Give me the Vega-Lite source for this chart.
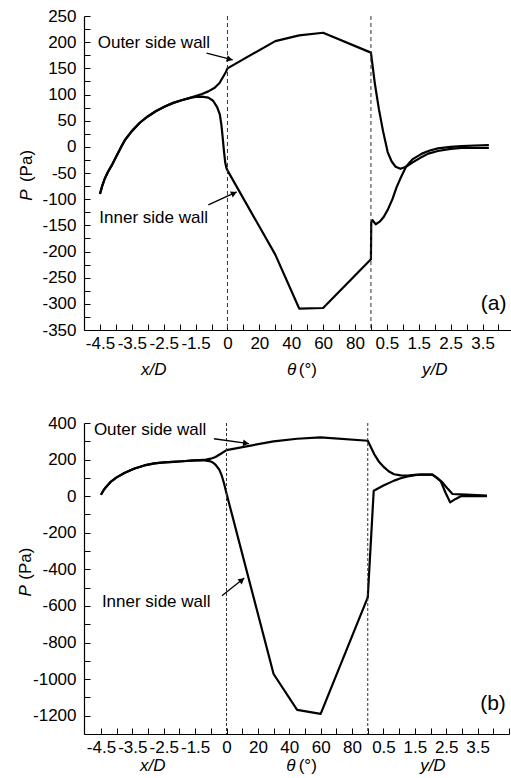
{
  "$schema": "https://vega.github.io/schema/vega-lite/v6.json",
  "autosize": {"type": "pad"},
  "padding": {"left": 16, "top": 7, "right": 0, "bottom": 0},
  "spacing": 93,
  "bounds": "flush",
  "config": {
    "view": {"stroke": null},
    "font": "Liberation Sans",
    "axis": {
      "grid": false, "tickSize": -6, "labelPadding": 13,
      "labelFont": "Liberation Sans", "labelFontSize": 17, "labelColor": "black",
      "domainColor": "black", "domainWidth": 1.2, "tickColor": "black", "tickWidth": 1,
      "labelOverlap": false, "labelFlush": false, "labelBound": false
    },
    "axisX": {"labelPadding": 11},
    "axisY": {"labelPadding": 14}
  },
  "vconcat": [
    {
      "width": 428,
      "height": 314,
      "encoding": {
        "x": {"field": "u", "type": "quantitative", "title": null, "scale": {"domain": [-1, 25.85], "nice": false, "zero": false},
          "axis": {"values": [0,1,2,3,4,5,6,7,8,9,10,11,12,13,14,15,16,17,18,19,20,21,22,23,24,25], "labelOverlap": false,
            "labelExpr": "['-4.5','','-3.5','','-2.5','','-1.5','','0','','20','','40','','60','','80','','0.5','','1.5','','2.5','','3.5','',''][datum.value]"}},
        "y": {"field": "P", "type": "quantitative", "title": null, "scale": {"domain": [-350, 250], "nice": false, "zero": false},
          "axis": {"values": [-350,-325,-300,-275,-250,-225,-200,-175,-150,-125,-100,-75,-50,-25,0,25,50,75,100,125,150,175,200,225,250], "labelOverlap": false,
            "labelExpr": "datum.value % 50 == 0 ? '' + datum.value : ''"}}
      },
      "layer": [
        {
          "data": {"values": [
            {"s":"outer","u":0,"P":-90},{"s":"outer","u":0.15,"P":-74},{"s":"outer","u":0.3,"P":-61},{"s":"outer","u":0.5,"P":-48},{"s":"outer","u":0.73,"P":-36},{"s":"outer","u":1.0,"P":-20},{"s":"outer","u":1.3,"P":-2},{"s":"outer","u":1.57,"P":13},{"s":"outer","u":2.0,"P":30},{"s":"outer","u":2.5,"P":46},{"s":"outer","u":3.0,"P":58},{"s":"outer","u":3.5,"P":68},{"s":"outer","u":4.07,"P":77},{"s":"outer","u":4.6,"P":84},{"s":"outer","u":5.12,"P":89},{"s":"outer","u":5.6,"P":93},{"s":"outer","u":6.0,"P":97},{"s":"outer","u":6.4,"P":101},{"s":"outer","u":6.8,"P":106},{"s":"outer","u":7.2,"P":113},{"s":"outer","u":7.5,"P":122},{"s":"outer","u":7.75,"P":135},{"s":"outer","u":7.9,"P":143},{"s":"outer","u":8.0,"P":150},{"s":"outer","u":11,"P":202},{"s":"outer","u":12.5,"P":213},{"s":"outer","u":14,"P":218},{"s":"outer","u":17,"P":180},{"s":"outer","u":17.25,"P":120},{"s":"outer","u":17.5,"P":72},{"s":"outer","u":17.76,"P":30},{"s":"outer","u":18.05,"P":-10},{"s":"outer","u":18.3,"P":-28},{"s":"outer","u":18.55,"P":-38},{"s":"outer","u":18.85,"P":-42},{"s":"outer","u":19.2,"P":-38},{"s":"outer","u":19.6,"P":-30},{"s":"outer","u":20.1,"P":-21},{"s":"outer","u":20.6,"P":-13},{"s":"outer","u":21.2,"P":-8},{"s":"outer","u":22.0,"P":-4},{"s":"outer","u":22.7,"P":-2},{"s":"outer","u":23.5,"P":-2},{"s":"outer","u":24.4,"P":-2},
            {"s":"inner","u":0,"P":-90},{"s":"inner","u":0.15,"P":-74},{"s":"inner","u":0.3,"P":-61},{"s":"inner","u":0.5,"P":-48},{"s":"inner","u":0.73,"P":-36},{"s":"inner","u":1.0,"P":-20},{"s":"inner","u":1.3,"P":-2},{"s":"inner","u":1.57,"P":13},{"s":"inner","u":2.0,"P":30},{"s":"inner","u":2.5,"P":46},{"s":"inner","u":3.0,"P":58},{"s":"inner","u":3.5,"P":68},{"s":"inner","u":4.07,"P":77},{"s":"inner","u":4.6,"P":84},{"s":"inner","u":5.12,"P":89},{"s":"inner","u":5.6,"P":93},{"s":"inner","u":6.0,"P":95.5},{"s":"inner","u":6.4,"P":96},{"s":"inner","u":6.8,"P":94},{"s":"inner","u":7.1,"P":88},{"s":"inner","u":7.35,"P":76},{"s":"inner","u":7.52,"P":62},{"s":"inner","u":7.62,"P":42},{"s":"inner","u":7.7,"P":18},{"s":"inner","u":7.78,"P":-8},{"s":"inner","u":7.86,"P":-30},{"s":"inner","u":7.93,"P":-40},{"s":"inner","u":8.0,"P":-45},{"s":"inner","u":11,"P":-206},{"s":"inner","u":12.5,"P":-309},{"s":"inner","u":14,"P":-308},{"s":"inner","u":17,"P":-215},{"s":"inner","u":17.02,"P":-145},{"s":"inner","u":17.1,"P":-140},{"s":"inner","u":17.3,"P":-148},{"s":"inner","u":17.55,"P":-143},{"s":"inner","u":17.8,"P":-134},{"s":"inner","u":18.06,"P":-120},{"s":"inner","u":18.35,"P":-100},{"s":"inner","u":18.6,"P":-78},{"s":"inner","u":18.9,"P":-57},{"s":"inner","u":19.2,"P":-38},{"s":"inner","u":19.6,"P":-24},{"s":"inner","u":20.2,"P":-13},{"s":"inner","u":20.7,"P":-7},{"s":"inner","u":21.2,"P":-3},{"s":"inner","u":22.0,"P":0},{"s":"inner","u":22.7,"P":1.5},{"s":"inner","u":23.5,"P":2.5},{"s":"inner","u":24.4,"P":3.5}
          ]},
          "mark": {"type": "line", "color": "black", "strokeWidth": 2.2, "strokeJoin": "round"},
          "encoding": {"detail": {"field": "s"}}
        },
        {
          "data": {"values": [{"u": 8}, {"u": 17}]},
          "mark": {"type": "rule", "strokeDash": [4, 3], "strokeWidth": 1, "color": "#333"},
          "encoding": {"y": {"value": 0}, "y2": {"value": "height"}}
        },
        {
          "data": {"values": [{"u":6.69,"P":179,"u2":8.33,"P2":166},{"u":6.8,"P":-111,"u2":8.58,"P2":-86}]},
          "mark": {"type": "rule", "color": "black", "strokeWidth": 1.3},
          "encoding": {"x2": {"field": "u2"}, "y2": {"field": "P2"}}
        },
        {
          "data": {"values": [{"u":8.14,"P":167.4}]},
          "mark": {"type": "point", "shape": "triangle-right", "filled": true, "color": "black", "size": 45, "opacity": 1, "angle": 15},
          "encoding": {}
        },
        {
          "data": {"values": [{"u":8.41,"P":-88.8}]},
          "mark": {"type": "point", "shape": "triangle-right", "filled": true, "color": "black", "size": 45, "opacity": 1, "angle": 335},
          "encoding": {}
        },
        {
          "data": {"values": [{"u":-0.14,"P":198,"txt":"Outer side wall"},{"u":-0.04,"P":-136,"txt":"Inner side wall"},{"u":12.47,"P":-426,"txt":"(°)"}]},
          "mark": {"type": "text", "align": "left", "baseline": "middle", "fontSize": 17, "font": "Liberation Sans", "color": "black"},
          "encoding": {"text": {"field": "txt"}}
        },
        {
          "data": {"values": [{"u":3.37,"P":-426,"txt":"x/D"},{"u":12.03,"P":-426,"txt":"θ"},{"u":21.0,"P":-426,"txt":"y/D"}]},
          "mark": {"type": "text", "align": "center", "baseline": "middle", "fontSize": 17, "fontStyle": "italic", "font": "Liberation Sans", "color": "black"},
          "encoding": {"text": {"field": "txt"}}
        },
        {
          "data": {"values": [{"u":25.5,"P":-300,"txt":"(a)"}]},
          "mark": {"type": "text", "align": "right", "baseline": "middle", "fontSize": 21, "font": "Liberation Sans", "color": "black"},
          "encoding": {"text": {"field": "txt"}}
        },
        {
          "data": {"values": [{"u":-4.6,"P":-92,"txt":"P"}]},
          "mark": {"type": "text", "align": "center", "baseline": "middle", "angle": 270, "fontSize": 17, "fontStyle": "italic", "font": "Liberation Sans", "color": "black"},
          "encoding": {"text": {"field": "txt"}}
        },
        {
          "data": {"values": [{"u":-4.6,"P":-36.6,"txt":"(Pa)"}]},
          "mark": {"type": "text", "align": "center", "baseline": "middle", "angle": 270, "fontSize": 17, "font": "Liberation Sans", "color": "black"},
          "encoding": {"text": {"field": "txt"}}
        }
      ]
    },
    {
      "width": 425,
      "height": 311,
      "encoding": {
        "x": {"field": "u", "type": "quantitative", "title": null, "scale": {"domain": [-1.08, 26], "nice": false, "zero": false},
          "axis": {"values": [0,1,2,3,4,5,6,7,8,9,10,11,12,13,14,15,16,17,18,19,20,21,22,23,24,25,26], "labelOverlap": false,
            "labelExpr": "['-4.5','','-3.5','','-2.5','','-1.5','','0','','20','','40','','60','','80','','0.5','','1.5','','2.5','','3.5','',''][datum.value]"}},
        "y": {"field": "P", "type": "quantitative", "title": null, "scale": {"domain": [-1300, 400], "nice": false, "zero": false},
          "axis": {"values": [-1300,-1200,-1100,-1000,-900,-800,-700,-600,-500,-400,-300,-200,-100,0,100,200,300,400], "labelOverlap": false,
            "labelExpr": "datum.value % 200 == 0 ? '' + datum.value : ''"}}
      },
      "layer": [
        {
          "data": {"values": [
            {"s":"outer","u":0,"P":8},{"s":"outer","u":0.15,"P":30},{"s":"outer","u":0.3,"P":48},{"s":"outer","u":0.64,"P":80},{"s":"outer","u":1.0,"P":103},{"s":"outer","u":1.49,"P":127},{"s":"outer","u":2.1,"P":150},{"s":"outer","u":2.76,"P":168},{"s":"outer","u":3.4,"P":179},{"s":"outer","u":4.03,"P":185},{"s":"outer","u":4.6,"P":188},{"s":"outer","u":5.2,"P":191},{"s":"outer","u":5.73,"P":194},{"s":"outer","u":6.3,"P":197},{"s":"outer","u":6.7,"P":200},{"s":"outer","u":7.0,"P":205},{"s":"outer","u":7.3,"P":214},{"s":"outer","u":7.64,"P":232},{"s":"outer","u":8.0,"P":252},{"s":"outer","u":11,"P":300},{"s":"outer","u":12.5,"P":314},{"s":"outer","u":14,"P":321},{"s":"outer","u":17,"P":303},{"s":"outer","u":17.41,"P":230},{"s":"outer","u":17.7,"P":190},{"s":"outer","u":18.05,"P":157},{"s":"outer","u":18.35,"P":135},{"s":"outer","u":18.68,"P":120},{"s":"outer","u":19.1,"P":114},{"s":"outer","u":19.54,"P":112},{"s":"outer","u":20.0,"P":116},{"s":"outer","u":20.38,"P":118},{"s":"outer","u":21.12,"P":118},{"s":"outer","u":21.45,"P":98},{"s":"outer","u":21.76,"P":75},{"s":"outer","u":22.1,"P":40},{"s":"outer","u":22.4,"P":12},{"s":"outer","u":22.93,"P":10},{"s":"outer","u":24.6,"P":3},
            {"s":"inner","u":0,"P":8},{"s":"inner","u":0.15,"P":30},{"s":"inner","u":0.3,"P":48},{"s":"inner","u":0.64,"P":80},{"s":"inner","u":1.0,"P":103},{"s":"inner","u":1.49,"P":127},{"s":"inner","u":2.1,"P":150},{"s":"inner","u":2.76,"P":168},{"s":"inner","u":3.4,"P":179},{"s":"inner","u":4.03,"P":185},{"s":"inner","u":4.6,"P":188},{"s":"inner","u":5.2,"P":191},{"s":"inner","u":5.73,"P":194},{"s":"inner","u":6.3,"P":197},{"s":"inner","u":6.6,"P":196},{"s":"inner","u":6.9,"P":192},{"s":"inner","u":7.11,"P":185},{"s":"inner","u":7.3,"P":172},{"s":"inner","u":7.54,"P":145},{"s":"inner","u":7.7,"P":112},{"s":"inner","u":7.85,"P":68},{"s":"inner","u":8.0,"P":15},{"s":"inner","u":11,"P":-972},{"s":"inner","u":12.5,"P":-1168},{"s":"inner","u":14,"P":-1190},{"s":"inner","u":17,"P":-553},{"s":"inner","u":17.38,"P":30},{"s":"inner","u":18.0,"P":58},{"s":"inner","u":18.68,"P":85},{"s":"inner","u":19.1,"P":98},{"s":"inner","u":19.54,"P":108},{"s":"inner","u":20.0,"P":115},{"s":"inner","u":20.38,"P":118},{"s":"inner","u":21.12,"P":118},{"s":"inner","u":21.4,"P":100},{"s":"inner","u":21.66,"P":80},{"s":"inner","u":21.95,"P":20},{"s":"inner","u":22.25,"P":-34},{"s":"inner","u":22.6,"P":-15},{"s":"inner","u":22.93,"P":0},{"s":"inner","u":24.6,"P":0}
          ]},
          "mark": {"type": "line", "color": "black", "strokeWidth": 2.2, "strokeJoin": "round"},
          "encoding": {"detail": {"field": "s"}}
        },
        {
          "data": {"values": [{"u": 8}, {"u": 17}]},
          "mark": {"type": "rule", "strokeDash": [3, 2], "strokeWidth": 1, "color": "#333"},
          "encoding": {"y": {"value": 0}, "y2": {"value": "height"}}
        },
        {
          "data": {"values": [{"u":7.2,"P":314,"u2":9.43,"P2":287},{"u":7.71,"P":-544,"u2":9.13,"P2":-447}]},
          "mark": {"type": "rule", "color": "black", "strokeWidth": 1.3},
          "encoding": {"x2": {"field": "u2"}, "y2": {"field": "P2"}}
        },
        {
          "data": {"values": [{"u":9.24,"P":289}]},
          "mark": {"type": "point", "shape": "triangle-right", "filled": true, "color": "black", "size": 45, "opacity": 1, "angle": 8},
          "encoding": {}
        },
        {
          "data": {"values": [{"u":8.98,"P":-458}]},
          "mark": {"type": "point", "shape": "triangle-right", "filled": true, "color": "black", "size": 45, "opacity": 1, "angle": 321},
          "encoding": {}
        },
        {
          "data": {"values": [{"u":-0.45,"P":363,"txt":"Outer side wall"},{"u":0.06,"P":-577,"txt":"Inner side wall"},{"u":12.6,"P":-1476,"txt":"(°)"}]},
          "mark": {"type": "text", "align": "left", "baseline": "middle", "fontSize": 17, "font": "Liberation Sans", "color": "black"},
          "encoding": {"text": {"field": "txt"}}
        },
        {
          "data": {"values": [{"u":3.3,"P":-1476,"txt":"x/D"},{"u":12.1,"P":-1476,"txt":"θ"},{"u":21.15,"P":-1476,"txt":"y/D"}]},
          "mark": {"type": "text", "align": "center", "baseline": "middle", "fontSize": 17, "fontStyle": "italic", "font": "Liberation Sans", "color": "black"},
          "encoding": {"text": {"field": "txt"}}
        },
        {
          "data": {"values": [{"u":25.8,"P":-1136,"txt":"(b)"}]},
          "mark": {"type": "text", "align": "right", "baseline": "middle", "fontSize": 21, "font": "Liberation Sans", "color": "black"},
          "encoding": {"text": {"field": "txt"}}
        },
        {
          "data": {"values": [{"u":-4.78,"P":-517,"txt":"P"}]},
          "mark": {"type": "text", "align": "center", "baseline": "middle", "angle": 270, "fontSize": 17, "fontStyle": "italic", "font": "Liberation Sans", "color": "black"},
          "encoding": {"text": {"field": "txt"}}
        },
        {
          "data": {"values": [{"u":-4.78,"P":-369,"txt":"(Pa)"}]},
          "mark": {"type": "text", "align": "center", "baseline": "middle", "angle": 270, "fontSize": 17, "font": "Liberation Sans", "color": "black"},
          "encoding": {"text": {"field": "txt"}}
        }
      ]
    }
  ]
}
